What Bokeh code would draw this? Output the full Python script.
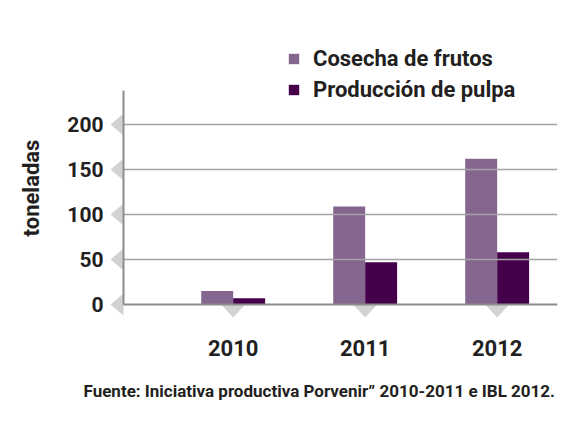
from bokeh.plotting import figure
from bokeh.models import Range1d, FixedTicker, Legend, Title
from bokeh.embed import file_html
from bokeh.resources import INLINE

# ---- data ----
years = [2010, 2011, 2012]
year_labels = ["2010", "2011", "2012"]
cosecha = [15, 109, 162]
pulpa = [7, 47, 58]
y_ticks = [0, 50, 100, 150, 200]
series_names = ["Cosecha de frutos", "Producción de pulpa"]
colors = ["#85668f", "#45004b"]
source_text = "Fuente: Iniciativa productiva Porvenir\u201d 2010-2011 e IBL 2012."
y_label = "toneladas"

TXT = "#231f20"
FONT = "Roboto"

# frame geometry (pixels) and scales
FL, FR, FT, FB = 108, 557, 40, 335
PX_PER_YEAR = 132.0
PX_PER_TON = 0.9
AXIS_PX_X, AXIS_PX_Y, AXIS_TOP_PX = 123, 304, 90
CENTER_PX = 364.67  # pixel of middle year

x_mid = years[1]
x_start = x_mid - (CENTER_PX - FL) / PX_PER_YEAR
x_end = x_mid + (FR - CENTER_PX) / PX_PER_YEAR
y_start = -(FB - AXIS_PX_Y) / PX_PER_TON
y_end = (AXIS_PX_Y - FT) / PX_PER_TON
axis_x = x_mid - (CENTER_PX - AXIS_PX_X) / PX_PER_YEAR
axis_top = (AXIS_PX_Y - AXIS_TOP_PX) / PX_PER_TON
dx = 1 / PX_PER_YEAR
dy = 1 / PX_PER_TON

p = figure(width=584, height=421, output_backend="svg", toolbar_location=None,
           x_range=Range1d(x_start, x_end), y_range=Range1d(y_start, y_end),
           min_border_left=FL, min_border_right=584 - FR, min_border_top=FT,
           min_border_bottom=421 - FB)
p.outline_line_color = None
p.background_fill_color = "white"
p.border_fill_color = "white"
p.grid.visible = False

# decorative triangle tick markers
tri_color = "#d1d2d4"
p.patches(xs=[[axis_x, axis_x, axis_x - 13 * dx] for v in y_ticks],
          ys=[[v - 11 * dy, v + 11 * dy, v] for v in y_ticks],
          fill_color=tri_color, line_color=None)
p.patches(xs=[[yr - 12 * dx, yr + 12 * dx, yr] for yr in years],
          ys=[[0, 0, -13 * dy] for yr in years],
          fill_color=tri_color, line_color=None)

# bars
bw = 0.242
r1 = p.vbar(x=[y - bw / 2 for y in years], top=cosecha, width=bw,
            color=colors[0], line_color=None)
r2 = p.vbar(x=[y + bw / 2 for y in years], top=pulpa, width=bw,
            color=colors[1], line_color=None)

# grid lines (over the bars)
gt = y_ticks[1:]
p.segment(x0=[axis_x] * len(gt), x1=[x_end] * len(gt), y0=gt, y1=gt,
          line_color="#a3a3a3", line_width=1.5)
# axis lines
p.segment(x0=[axis_x, axis_x], x1=[x_end, axis_x], y0=[0, 0], y1=[0, axis_top],
          line_color="#8c8c8c", line_width=2)

# axes (labels only)
for ax in (p.xaxis[0], p.yaxis[0]):
    ax.axis_line_color = None
    ax.major_tick_line_color = None
    ax.minor_tick_line_color = None
    ax.major_tick_out = 0
    ax.major_tick_in = 0
    ax.major_label_text_color = TXT
    ax.major_label_text_font = FONT
    ax.major_label_text_font_style = "bold"

p.xaxis.ticker = FixedTicker(ticks=years)
p.xaxis.major_label_overrides = {y: l for y, l in zip(years, year_labels)}
p.xaxis.major_label_text_font_size = "22px"
p.xaxis.major_label_standoff = 4

p.yaxis.ticker = FixedTicker(ticks=y_ticks)
p.yaxis.major_label_text_font_size = "21px"
p.yaxis.major_label_standoff = 5
p.yaxis.axis_label = y_label
p.yaxis.axis_label_text_font = FONT
p.yaxis.axis_label_text_font_style = "bold"
p.yaxis.axis_label_text_font_size = "22px"
p.yaxis.axis_label_text_color = TXT
p.yaxis.axis_label_standoff = 20

# legend
legend = Legend(items=[(series_names[0], [r1]), (series_names[1], [r2])],
                location=(287 - FL, FB - 102), orientation="vertical",
                glyph_width=13, glyph_height=13, label_standoff=13,
                label_height=24, spacing=6, padding=0, margin=0,
                border_line_color=None, background_fill_alpha=0,
                label_text_font=FONT, label_text_font_size="22px",
                label_text_font_style="bold", label_text_color=TXT)
p.add_layout(legend, "center")

# source note
t = Title(text=source_text, align="left", offset=-25, standoff=40,
          text_font=FONT, text_font_size="17px", text_font_style="bold",
          text_color=TXT)
p.add_layout(t, "below")

open("out.html", "w").write(file_html(p, INLINE))
